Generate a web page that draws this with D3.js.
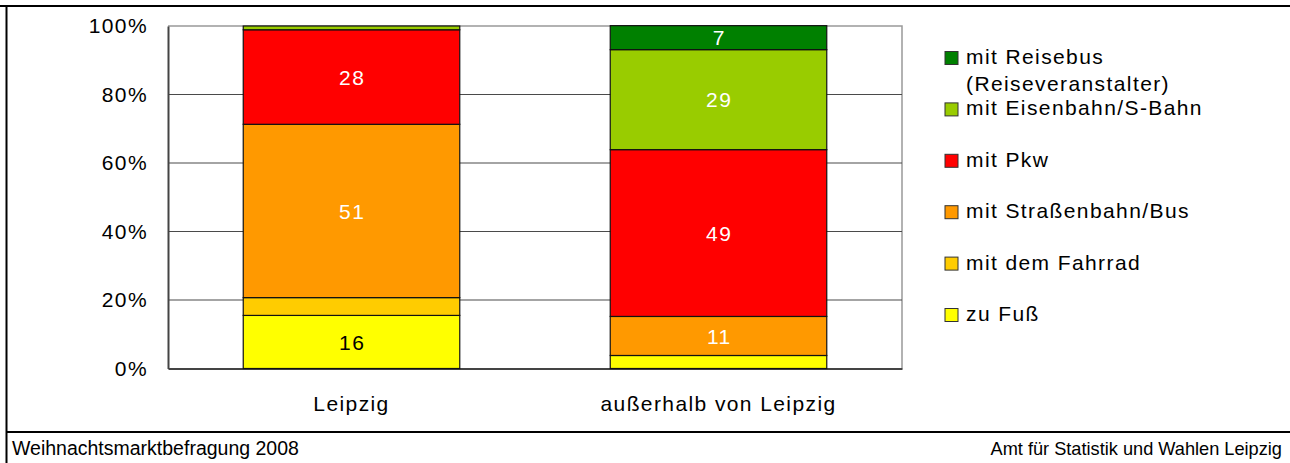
<!DOCTYPE html>
<html>
<head>
<meta charset="utf-8">
<script src="https://cdn.jsdelivr.net/npm/d3@7"></script>
<style>
  body { margin: 0; background: #fff; }
  svg { display: block; font-family: "Liberation Sans", Arial, sans-serif; }
</style>
</head>
<body>
<div id="chart"></div>
<script>
const width = 1290;
const height = 463;

// Data (percent)
const categories = ['Leipzig', 'außerhalb von Leipzig'];
const modes = ['zu Fuß', 'mit dem Fahrrad', 'mit Straßenbahn/Bus', 'mit Pkw', 'mit Eisenbahn/S-Bahn', 'mit Reisebus (Reiseveranstalter)'];
const zuFuss = [15.5, 3.8];
const fahrrad = [5.2, 0];
const strassenbahn = [50.6, 11.4];
const pkw = [27.6, 48.7];
const eisenbahn = [1.1, 29.2];
const reisebus = [0, 7];
const yTicks = [0, 20, 40, 60, 80, 100];

const colors = ['#FFFF00', '#FFCC00', '#FF9900', '#FF0000', '#99CC00', '#008000'];
const labelColors = ['#000', '#fff', '#fff', '#fff', '#fff', '#fff'];

const series = [zuFuss, fahrrad, strassenbahn, pkw, eisenbahn, reisebus];
const table = categories.map((c, i) => {
  const row = { category: c };
  modes.forEach((m, j) => { row[m] = series[j][i]; });
  return row;
});

const fontSize = 21;
const spacing = 1.4; // the original text is set quite wide

const margin = { left: 168, right: 388, top: 26, bottom: 94.5 };

const x = d3.scaleBand()
  .domain(categories)
  .range([margin.left, width - margin.right])
  .paddingInner(0.41)
  .paddingOuter(0.205);

const y = d3.scaleLinear()
  .domain([0, 100])
  .range([height - margin.bottom, margin.top]);

const svg = d3.select('#chart')
  .append('svg')
    .attr('width', width)
    .attr('height', height);

// outer frame
svg.append('line')
  .attr('x1', 0).attr('x2', width).attr('y1', 6).attr('y2', 6)
  .attr('stroke', '#000').attr('stroke-width', 2);
svg.append('line')
  .attr('x1', 6.5).attr('x2', 6.5).attr('y1', 6).attr('y2', height)
  .attr('stroke', '#000').attr('stroke-width', 2);
svg.append('line')
  .attr('x1', 6).attr('x2', width).attr('y1', 432).attr('y2', 432)
  .attr('stroke', '#000').attr('stroke-width', 2);

// plot area border (top, right)
svg.append('path')
  .attr('d', `M${margin.left},${y(100)}H${width - margin.right}V${y(0)}`)
  .attr('fill', 'none')
  .attr('stroke', '#999')
  .attr('stroke-width', 1.5);

// gridlines
svg.append('g')
  .selectAll('line')
  .data(yTicks.filter(t => t > 0 && t < 100))
  .join('line')
    .attr('x1', margin.left).attr('x2', width - margin.right)
    .attr('y1', d => y(d)).attr('y2', d => y(d))
    .attr('stroke', '#4a4a4a')
    .attr('stroke-width', 1.2);

// y axis
const yAxis = svg.append('g')
  .attr('transform', `translate(${margin.left},0)`)
  .call(d3.axisLeft(y).tickValues(yTicks).tickFormat(d => d + '%').tickSize(0).tickPadding(20));
yAxis.select('.domain').attr('stroke', '#444').attr('stroke-width', 2);
yAxis.selectAll('text').attr('font-size', fontSize).attr('fill', '#000')
  .attr('letter-spacing', spacing)
  .attr('font-family', '"Liberation Sans", Arial, sans-serif');

// x axis
const xAxis = svg.append('g')
  .attr('transform', `translate(0,${y(0)})`)
  .call(d3.axisBottom(x).tickSize(0).tickPadding(28));
xAxis.select('.domain').attr('stroke', '#444').attr('stroke-width', 2);
xAxis.selectAll('text').attr('font-size', fontSize).attr('fill', '#000')
  .attr('letter-spacing', spacing)
  .attr('font-family', '"Liberation Sans", Arial, sans-serif');

// stacked bars
const stacked = d3.stack().keys(modes)(table);

const layer = svg.append('g')
  .selectAll('g')
  .data(stacked)
  .join('g')
    .attr('fill', (d, i) => colors[i]);

layer.selectAll('rect')
  .data(d => d.filter(s => s[1] - s[0] > 0))
  .join('rect')
    .attr('x', d => x(d.data.category))
    .attr('width', x.bandwidth())
    .attr('y', d => y(d[1]))
    .attr('height', d => y(d[0]) - y(d[1]))
    .attr('stroke', '#111')
    .attr('stroke-width', 1.2);

layer.selectAll('text')
  .data((d, i) => d.filter(s => s[1] - s[0] >= 6).map(s => ({ s, i })))
  .join('text')
    .attr('x', d => x(d.s.data.category) + x.bandwidth() / 2 + spacing / 2)
    .attr('y', d => (y(d.s[0]) + y(d.s[1])) / 2)
    .attr('dy', '0.36em')
    .attr('text-anchor', 'middle')
    .attr('font-size', fontSize)
    .attr('letter-spacing', spacing)
    .attr('fill', d => labelColors[d.i])
    .text(d => Math.round(d.s[1] - d.s[0]));

// legend, top to bottom
const legendY = d3.scaleLinear().domain([0, modes.length - 1]).range([58, 315]);
const legendItems = modes.map((m, i) => ({ m, i })).reverse();
const legend = svg.append('g')
  .selectAll('g')
  .data(legendItems)
  .join('g')
    .attr('transform', (d, k) => `translate(945,${legendY(k)})`);

legend.append('rect')
  .attr('x', 0).attr('y', -6.5)
  .attr('width', 13).attr('height', 13)
  .attr('fill', d => colors[d.i])
  .attr('stroke', '#333')
  .attr('stroke-width', 1);

legend.append('text')
  .attr('x', 21)
  .attr('y', 6)
  .attr('font-size', fontSize)
  .attr('letter-spacing', spacing)
  .attr('fill', '#000')
  .each(function(d) {
    const parts = d.m.split(' (');
    const t = d3.select(this);
    t.append('tspan').attr('x', 21).text(parts[0]);
    if (parts[1]) {
      t.append('tspan').attr('x', 21).attr('dy', 27).text('(' + parts[1]);
    }
  });

// footer
svg.append('text')
  .attr('x', 12).attr('y', 455)
  .attr('font-size', 19.5)
  .text('Weihnachtsmarktbefragung 2008');
svg.append('text')
  .attr('x', 1282).attr('y', 455)
  .attr('text-anchor', 'end')
  .attr('font-size', 18.2)
  .text('Amt für Statistik und Wahlen Leipzig');
</script>
</body>
</html>
